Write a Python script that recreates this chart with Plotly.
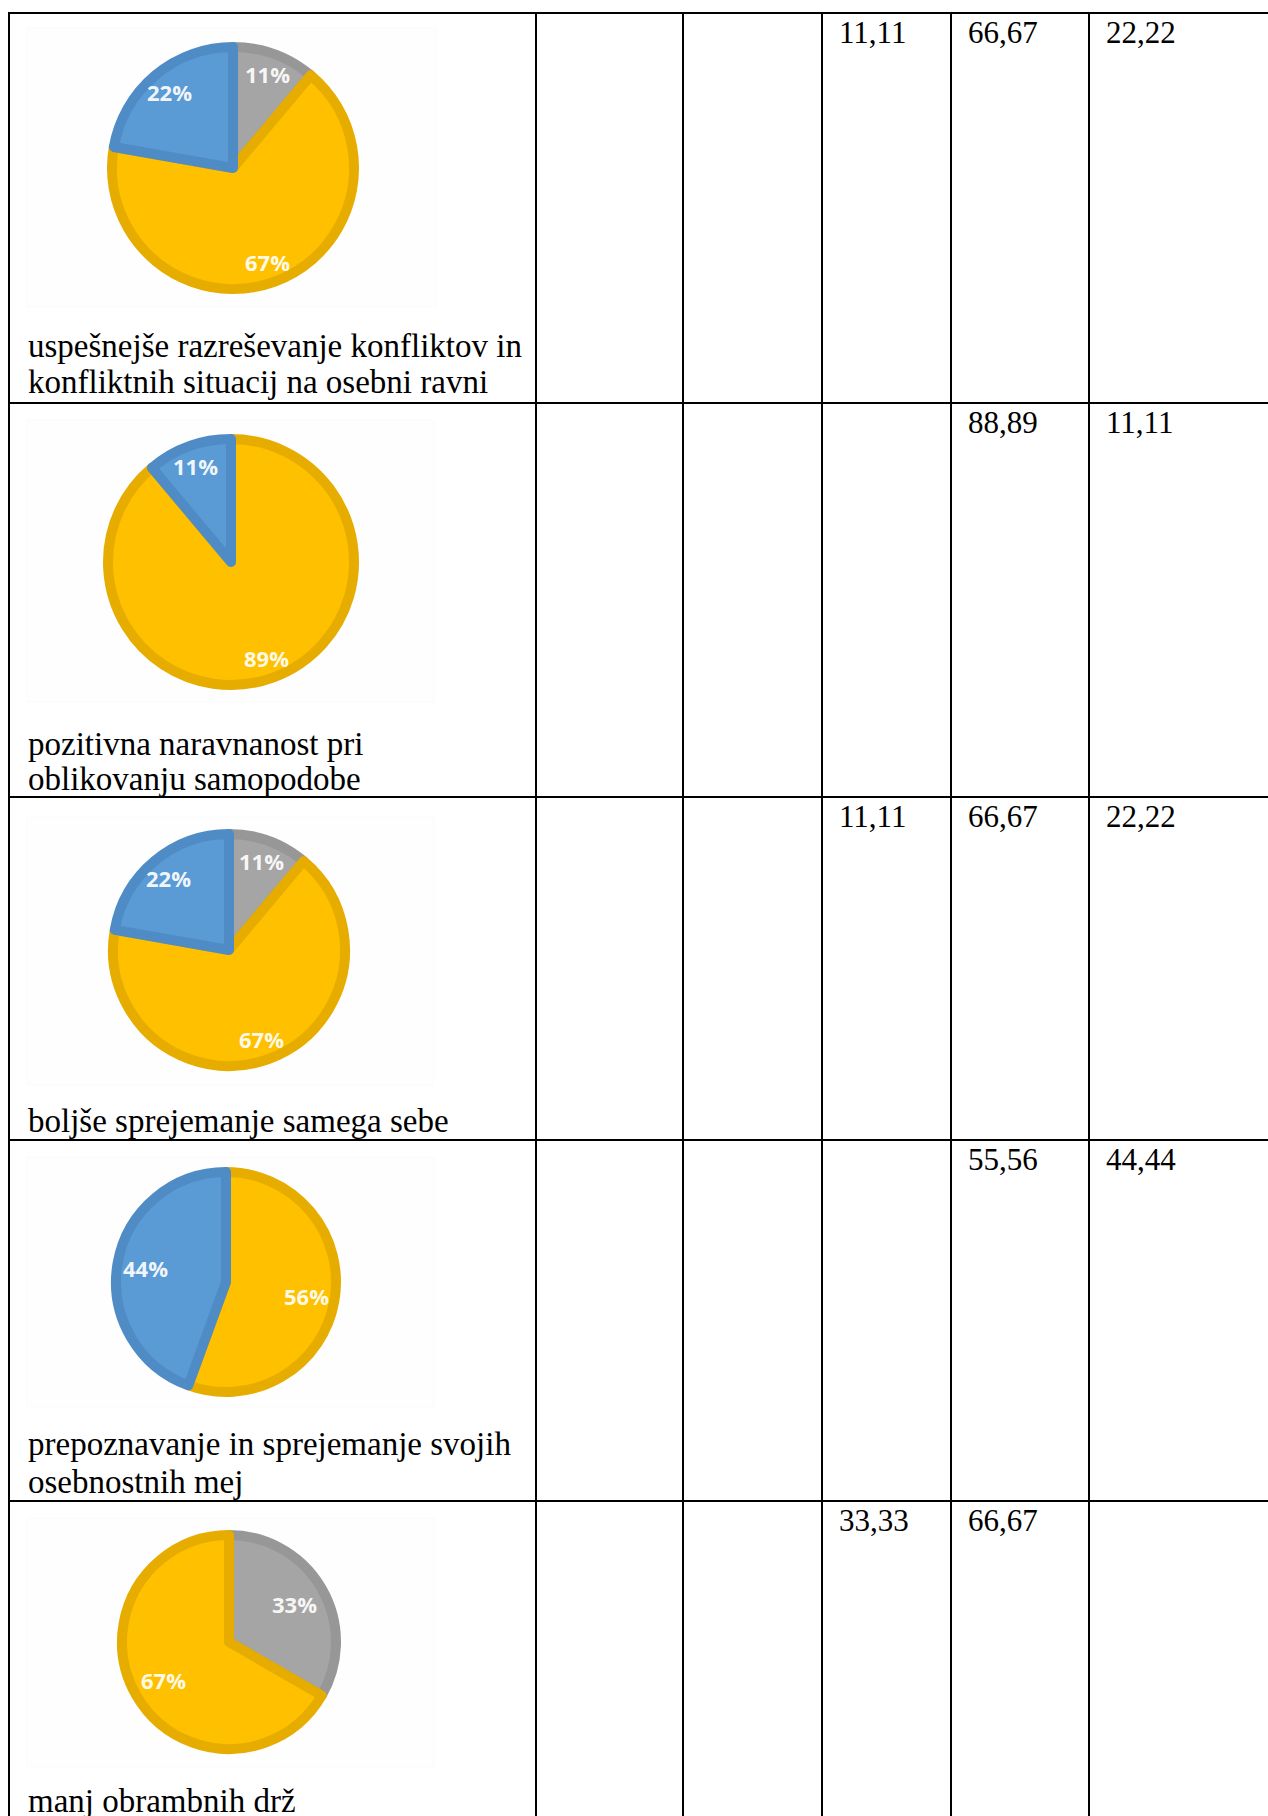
import math
import plotly.graph_objects as go

W, H = 1268, 1816

# ---------------- data ----------------
row_labels = [
    ["uspešnejše razreševanje konfliktov in", "konfliktnih situacij na osebni ravni"],
    ["pozitivna naravnanost pri", "oblikovanju samopodobe"],
    ["boljše sprejemanje samega sebe"],
    ["prepoznavanje in sprejemanje svojih", "osebnostnih mej"],
    ["manj obrambnih drž"],
]
col4_values = [11.11, None, 11.11, None, 33.33]
col5_values = [66.67, 88.89, 66.67, 55.56, 66.67]
col6_values = [22.22, 11.11, 22.22, 44.44, None]

# ---------------- layout / style ----------------
col_x = [9, 536, 683, 822, 951, 1089]
row_y = [13, 403, 797, 1140, 1501]
pie_center = [(233, 168), (231, 562), (229, 950), (226, 1282), (229, 1642)]
pie_R = [126, 128, 121, 115, 112]
label_rfrac = [0.79, 0.80, 0.78, 0.71, 0.68]
label_baselines = [[357, 393], [755, 790], [1132], [1455, 1493], [1812]]
chart_area = [(27, 28, 436, 307), (27, 420, 434, 702), (27, 817, 434, 1085),
              (27, 1157, 434, 1407), (27, 1518, 434, 1767)]

fill_colors = ["#A5A5A5", "#FFC000", "#5B9BD5"]
line_colors = ["#979797", "#E6AD00", "#4F8CC6"]
STROKE = 10
LABEL_F = 33
NUM_F = 31
SERIF = "Times New Roman, Liberation Serif, DejaVu Serif, serif"


def px(x):
    return x / W


def py(y):
    return 1 - y / H


fig = go.Figure()
shapes = []
annotations = []

# very faint chart-area backgrounds
for (x0, y0, x1, y1) in chart_area:
    shapes.append(dict(type="rect", xref="paper", yref="paper",
                       x0=px(x0), x1=px(x1), y0=py(y1), y1=py(y0),
                       fillcolor="rgba(0,0,0,0.004)",
                       line=dict(color="rgba(0,0,0,0.02)", width=1), layer="below"))

# pies
for i in range(len(col5_values)):
    raw = [col4_values[i], col5_values[i], col6_values[i]]
    vals, fc, lc = [], [], []
    for v, f, l in zip(raw, fill_colors, line_colors):
        if v:
            vals.append(v)
            fc.append(f)
            lc.append(l)
    cx, cy = pie_center[i]
    r = pie_R[i] - STROKE / 2
    fig.add_trace(go.Pie(
        values=vals, sort=False, direction="clockwise", rotation=0,
        marker=dict(colors=fc, line=dict(color=lc, width=STROKE)),
        textinfo="none", hoverinfo="skip", showlegend=False,
        domain=dict(x=[px(cx - r), px(cx + r)], y=[py(cy + r), py(cy - r)]),
    ))
    total = sum(vals)
    cum = 0
    for v in vals:
        mid = (cum + v / 2) / total * 2 * math.pi
        cum += v
        lr = label_rfrac[i] * pie_R[i]
        lx = cx + lr * math.sin(mid)
        ly = cy - lr * math.cos(mid)
        annotations.append(dict(
            x=px(lx), y=py(ly), xref="paper", yref="paper", showarrow=False,
            xanchor="center", yanchor="middle",
            text="<b>%d%%</b>" % round(v / total * 100),
            font=dict(family="Open Sans", size=22, color="rgba(255,255,255,0.93)"),
        ))

# row label text
for i, lines in enumerate(row_labels):
    for line, base in zip(lines, label_baselines[i]):
        annotations.append(dict(
            x=px(26), y=py(base - 0.34 * LABEL_F), xref="paper", yref="paper",
            showarrow=False, xanchor="left", yanchor="middle", text=line,
            font=dict(family=SERIF, size=LABEL_F, color="black"),
        ))

# numeric cells
num_cols = [(3, col4_values), (4, col5_values), (5, col6_values)]
for ci, values in num_cols:
    for ri, v in enumerate(values):
        if v is None:
            continue
        base = row_y[ri] + 30
        annotations.append(dict(
            x=px(col_x[ci] + 15), y=py(base - 0.34 * NUM_F), xref="paper", yref="paper",
            showarrow=False, xanchor="left", yanchor="middle",
            text=("%.2f" % v).replace(".", ","),
            font=dict(family=SERIF, size=NUM_F, color="black"),
        ))

# table grid
for y in row_y:
    shapes.append(dict(type="line", xref="paper", yref="paper",
                       x0=px(col_x[0] - 1), x1=1.0, y0=py(y), y1=py(y),
                       line=dict(color="black", width=2)))
for x in col_x:
    shapes.append(dict(type="line", xref="paper", yref="paper",
                       x0=px(x), x1=px(x), y0=py(row_y[0] - 1), y1=0.0,
                       line=dict(color="black", width=2)))

fig.update_layout(
    width=W, height=H, margin=dict(l=0, r=0, t=0, b=0),
    paper_bgcolor="white", plot_bgcolor="white",
    shapes=shapes, annotations=annotations,
)

fig.write_html("out.html")
